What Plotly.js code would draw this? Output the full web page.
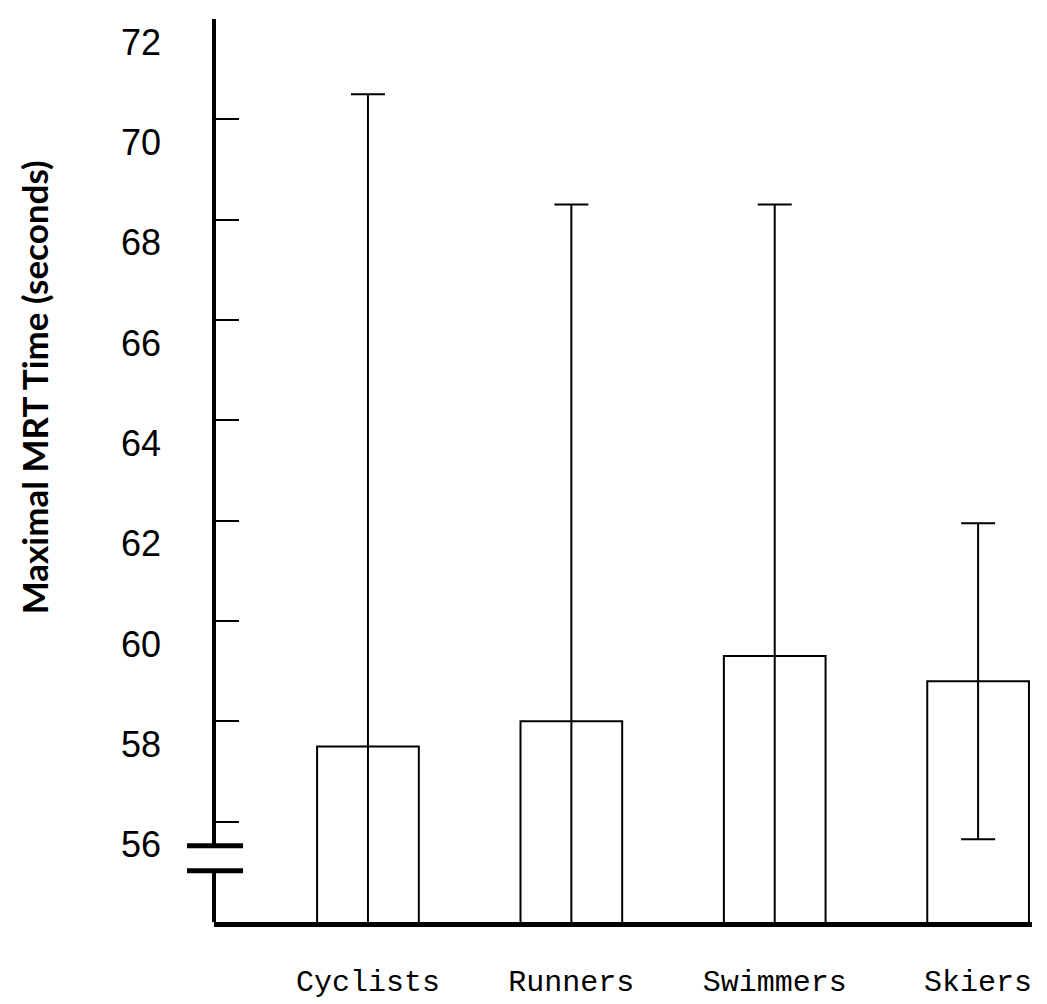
<!DOCTYPE html>
<html>
<head>
<meta charset="utf-8">
<script src="https://cdn.plot.ly/plotly-3.0.1.min.js"></script>
<style>html,body{margin:0;padding:0;background:#fff;}</style>
</head>
<body>
<div id="chart" style="width:1047px;height:1004px;"></div>
<script>
// Data
var groups = ["Cyclists", "Runners", "Swimmers", "Skiers"];
var meanTime = [57.5, 58.0, 59.3, 58.8];      // bar heights (seconds)
var errorTime = [13.0, 10.3, 9.0, 3.15];      // symmetric error bars (seconds)
var yTicks = [56, 58, 60, 62, 64, 66, 68, 70, 72];
var yTitle = "Maximal MRT Time (seconds)";

var trace = {
  type: "bar",
  x: groups,
  y: meanTime,
  width: 0.5,
  marker: {color: "white", line: {color: "black", width: 2}},
  error_y: {type: "data", array: errorTime, visible: true, color: "black", thickness: 2, width: 17},
  hoverinfo: "x+y"
};

var layout = {
  width: 1047,
  height: 1004,
  margin: {l: 214, r: 15, t: 19, b: 82},
  paper_bgcolor: "white",
  plot_bgcolor: "white",
  showlegend: false,
  font: {family: "Liberation Sans, Arial, sans-serif", color: "black"},
  xaxis: {
    type: "category",
    range: [-0.757, 3.265],
    showline: true,
    linecolor: "black",
    linewidth: 5,
    showgrid: false,
    zeroline: false,
    ticks: "",
    ticklabelstandoff: 28,
    tickfont: {family: "Liberation Mono, DejaVu Sans Mono, monospace", size: 30, color: "black"}
  },
  yaxis: {
    range: [54.0, 72.0],
    showline: false,
    showgrid: false,
    zeroline: false,
    tickmode: "array",
    tickvals: yTicks,
    ticktext: yTicks.map(String),
    ticks: "inside",
    ticklen: 25,
    tickwidth: 2,
    tickcolor: "black",
    ticklabelshift: 23,
    ticklabelstandoff: 52,
    tickfont: {family: "Liberation Sans, Arial, sans-serif", size: 36, color: "black"}
  },
  shapes: [
    // y axis line with a break near the bottom
    {type: "line", xref: "paper", yref: "y", x0: 0, x1: 0, y0: 72.06, y1: 55.52, line: {color: "black", width: 4}},
    {type: "line", xref: "paper", yref: "y", x0: 0, x1: 0, y0: 55.02, y1: 54.0, line: {color: "black", width: 4}},
    // axis break marks
    {type: "line", xref: "paper", yref: "y", x0: -0.033, x1: 0.0355, y0: 55.52, y1: 55.52, line: {color: "black", width: 5}},
    {type: "line", xref: "paper", yref: "y", x0: -0.033, x1: 0.0355, y0: 55.02, y1: 55.02, line: {color: "black", width: 5}}
  ],
  annotations: [
    {
      text: yTitle,
      xref: "paper", yref: "paper",
      x: -0.219, y: 0.592,
      xanchor: "center", yanchor: "middle",
      textangle: -90,
      showarrow: false,
      font: {family: "Liberation Sans Narrow, Lato, sans-serif", size: 35, color: "black", weight: "bold"}
    }
  ]
};

Plotly.newPlot("chart", [trace], layout, {displayModeBar: false, staticPlot: true});
</script>
</body>
</html>
